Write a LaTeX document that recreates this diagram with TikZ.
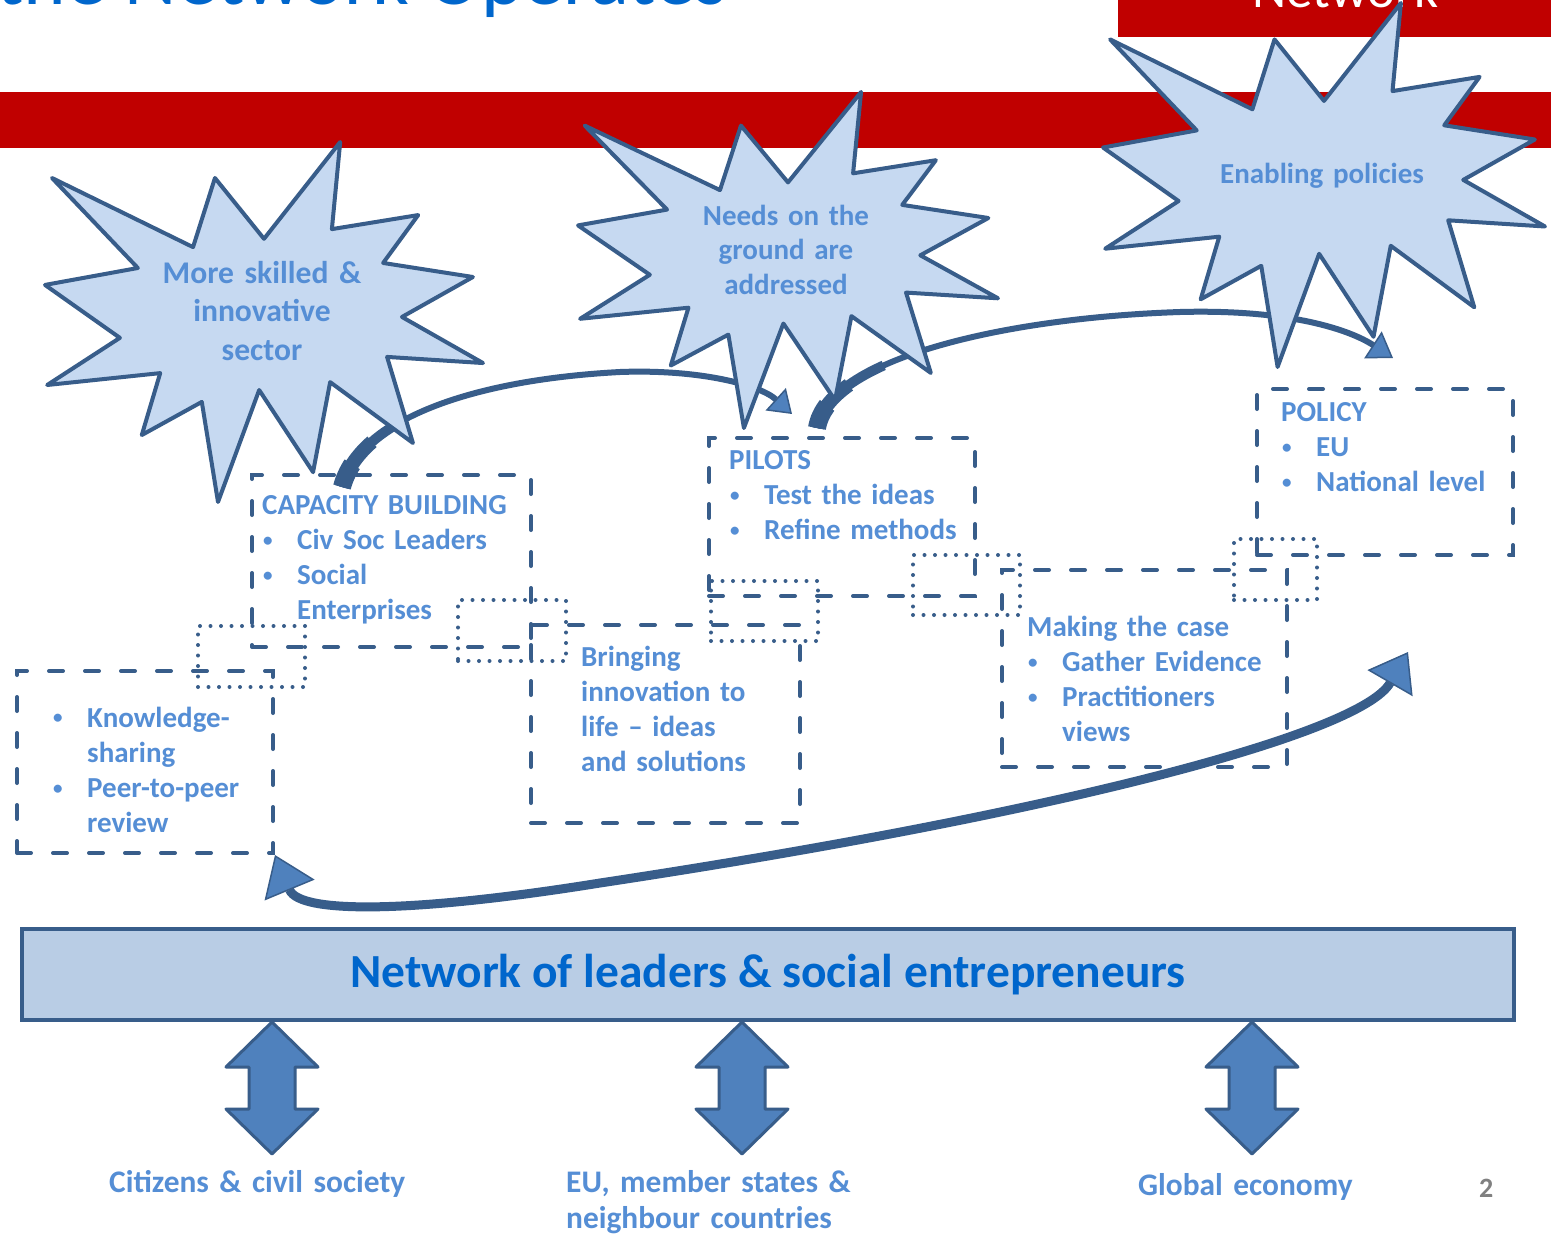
\documentclass[tikz,border=0pt]{standalone}
\usepackage{fontspec}
\setmainfont{Carlito}
\usetikzlibrary{calc,arrows.meta}

\definecolor{slidered}{RGB}{192,0,0}
\definecolor{darkline}{RGB}{56,93,138}
\definecolor{midblue}{RGB}{79,129,189}
\definecolor{burstfill}{RGB}{198,217,241}
\definecolor{barfill}{RGB}{185,205,229}
\definecolor{textblue}{RGB}{85,142,213}
\definecolor{titleblue}{RGB}{0,102,204}
\definecolor{pagegray}{RGB}{128,128,128}

\newcommand{\bitem}{\makebox[35pt][l]{\hspace{1pt}\raisebox{3.2pt}{\fontsize{19}{19}\selectfont\textbullet}}}
\newcommand{\bskip}{\hspace*{35pt}}

\begin{document}
\begin{tikzpicture}[x=1pt, y=-1pt,
    burstline/.style={draw=darkline, fill=burstfill, line width=4, line join=round},
    burst/.pic={\draw[burstline] (0.016,0.100) -- (0.338,0.292) -- (0.388,0.100) -- (0.500,0.269) -- (0.674,0) -- (0.655,0.242)
        -- (0.852,0.203) -- (0.772,0.336) -- (0.977,0.375) -- (0.815,0.486) -- (1,0.614) -- (0.781,0.597)
        -- (0.840,0.836) -- (0.651,0.667) -- (0.612,0.917) -- (0.489,0.689) -- (0.395,1) -- (0.358,0.722)
        -- (0.221,0.814) -- (0.263,0.642) -- (0.005,0.675) -- (0.171,0.544) -- (0,0.397) -- (0.212,0.350) -- cycle;},
    bursttext/.style={text=textblue, font=\bfseries\fontsize{29}{34.7}\selectfont, align=center, text width=320, inner sep=0, anchor=base},
    dashbox/.style={draw=darkline, line width=4, line cap=round, dash pattern=on 14pt off 22pt, inner sep=0, anchor=north west},
    dotbox/.style={draw=darkline, line width=4, line cap=round, dash pattern=on 0pt off 10.5pt, inner sep=0, anchor=north west},
    boxtext/.style={text=textblue, font=\bfseries\fontsize{29}{35.3}\selectfont, align=left, text width=320, inner sep=0, anchor=base west},
    curvearrow/.style={draw=darkline, line width=6},
    blockarrow/.style={draw=darkline, fill=midblue, line width=3, line join=round},
    netbar/.style={draw=darkline, fill=barfill, line width=4, inner sep=0, anchor=north west, text=titleblue, font=\bfseries\fontsize{47.5}{57}\selectfont},
    labeltext/.style={text=textblue, font=\bfseries\fontsize{31.4}{36}\selectfont, align=left, text width=400, inner sep=0, anchor=base west}]
    \useasboundingbox (0,0) rectangle (1551,1234);
    \clip (0,0) rectangle (1551,1234);
    \fill[white] (0,0) rectangle (1551,1234);
    % slide header
    \fill[slidered] (0,92) rectangle (1551,148);
    \fill[slidered] (1118,0) rectangle (1551,37);
    \node[anchor=base east, inner sep=0, text=titleblue, font=\fontsize{81}{97}\selectfont] (title) at (727,5) {How the Network Operates};
    \node[anchor=base west, inner sep=0, text=white, font=\fontsize{53}{64}\selectfont] (tag) at (1252,7) {Network};
    % boxes
    \node[dashbox, minimum width=279, minimum height=172] (cap)    at (250,473)  {};
    \node[dashbox, minimum width=256, minimum height=182] (know)   at (15,669)   {};
    \node[dashbox, minimum width=269, minimum height=198] (bring)  at (529,623)  {};
    \node[dashbox, minimum width=266, minimum height=158] (pilots) at (707,436)  {};
    \node[dashbox, minimum width=285, minimum height=197] (making) at (1000,568) {};
    \node[dashbox, minimum width=256, minimum height=166] (policy) at (1255,387) {};
    \node[dotbox, minimum width=107, minimum height=61] (joinA) at (196,624)  {};
    \node[dotbox, minimum width=108, minimum height=61] (joinB) at (456,598)  {};
    \node[dotbox, minimum width=107, minimum height=60] (joinC) at (709,579)  {};
    \node[dotbox, minimum width=107, minimum height=60] (joinD) at (911,553)  {};
    \node[dotbox, minimum width=83,  minimum height=61] (joinE) at (1232,537) {};
    % box texts
    \node[boxtext] (captext)    at ($(cap.north west)+(12,41)$)    {CAPACITY BUILDING\\ \bitem Civ Soc Leaders\\ \bitem Social\\ \bskip Enterprises};
    \node[boxtext] (knowtext)   at ($(know.north west)+(37,58)$)   {\bitem Knowledge-\\ \bskip sharing\\ \bitem Peer-to-peer\\ \bskip review};
    \node[boxtext] (bringtext)  at ($(bring.north west)+(52,43)$)  {Bringing\\ innovation to\\ life – ideas\\ and solutions};
    \node[boxtext] (pilotstext) at ($(pilots.north west)+(22,33)$) {PILOTS\\ \bitem Test the ideas\\ \bitem Refine methods};
    \node[boxtext] (makingtext) at ($(making.north west)+(27,68)$) {Making the case\\ \bitem Gather Evidence\\ \bitem Practitioners\\ \bskip views};
    \node[boxtext] (policytext) at ($(policy.north west)+(26,34)$) {POLICY\\ \bitem EU\\ \bitem National level};
    % curved arrows
    \coordinate (tipA)  at (792,414);
    \coordinate (tipB)  at (1393,358);
    \coordinate (tipC)  at (1408,652);
    \foreach \w/\l in {18/25pt, 14/55pt, 10/95pt}
        \draw[darkline, line width=\w, dash pattern=on \l off 3000pt] ($(cap.north west)+(92,14)$) .. controls (360,420) and (470,380) .. (620,372);
    \draw[curvearrow, -{Triangle[width=30pt, length=22pt, fill=midblue, line width=1.5pt]}]
        ($(cap.north west)+(92,14)$) .. controls (360,420) and (470,380) .. (620,372) .. controls (700,369) and (760,385) .. (tipA);
    \foreach \w/\l in {18/25pt, 14/55pt, 10/95pt}
        \draw[darkline, line width=\w, dash pattern=on \l off 3000pt] ($(pilots.north west)+(110,-8)$) .. controls (828,360) and (1000,318) .. (1180,312);
    \draw[curvearrow, -{Triangle[width=32pt, length=24pt, fill=midblue, line width=1.5pt]}]
        ($(pilots.north west)+(110,-8)$) .. controls (828,360) and (1000,318) .. (1180,312) .. controls (1290,309) and (1350,330) .. (tipB);
    \draw[curvearrow, line width=9, {Triangle[width=52pt, length=36pt, fill=midblue, line width=1.5pt]}-{Triangle[width=54pt, length=38pt, fill=midblue, line width=1.5pt]}]
        (tipC) .. controls (1360,735) and (1050,815) .. (600,883) .. controls (420,912) and (300,915) .. (know.south east);
    % starbursts
    \pic[xscale=438, yscale=360] at (45,142)  {burst};
    \pic[xscale=420, yscale=336] at (578,92)  {burst};
    \pic[xscale=442, yscale=364] at (1103,3)  {burst};
    \node[bursttext, font=\bfseries\fontsize{31.6}{38.5}\selectfont] (skilled) at (262,283) {More skilled \&\\ innovative\\ sector};
    \node[bursttext] (needs)    at (786,225)  {Needs on the\\ ground are\\ addressed};
    \node[bursttext] (enabling) at (1322,183) {Enabling policies};
    % network bar and links
    \node[netbar, minimum width=1492, minimum height=91] (net) at (20,927) {Network of leaders \& social entrepreneurs};
    \foreach \x in {272,742,1252}
        \draw[blockarrow] (net.south -| \x,0) -- ++(46,45) -- ++(-23,0) -- ++(0,42) -- ++(23,0) -- ++(-46,45)
            -- ++(-46,-45) -- ++(23,0) -- ++(0,-42) -- ++(-23,0) -- cycle;
    \node[labeltext] (citizens) at (109,1192)  {Citizens \& civil society};
    \node[labeltext] (eu)       at (566,1192)  {EU, member states \&\\ neighbour countries};
    \node[labeltext] (global)   at (1138,1195) {Global economy};
    \node[anchor=base west, inner sep=0, text=pagegray, font=\bfseries\fontsize{28}{34}\selectfont] (page) at (1479,1197) {2};
\end{tikzpicture}
\end{document}
